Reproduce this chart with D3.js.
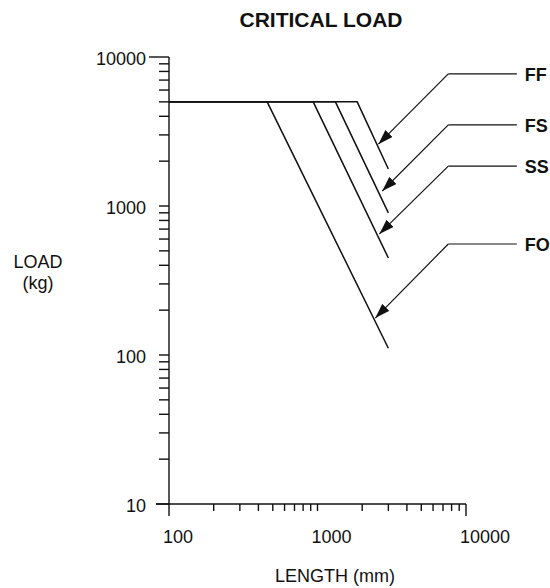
<!DOCTYPE html>
<html lang="en">
<head>
  <meta charset="utf-8">
  <title>Critical Load</title>
  <script src="https://cdn.jsdelivr.net/npm/d3@7"></script>
  <style>
    * { margin: 0; padding: 0; box-sizing: border-box; }
    body { background: #fff; font-family: "Liberation Sans", Arial, sans-serif; }
    svg { display: block; }
  </style>
</head>
<body>
  <svg id="chart" width="550" height="588"></svg>
  <script>
    // curve data (length in mm, load in kg)
    const series = ["FF", "FS", "SS", "FO"];
    const plateauLoad = 5000;
    const startLength = 100;
    const breakLength = [1850, 1320, 935, 458];
    const endLength = [3000, 3000, 3000, 3000];
    const endLoad = [1770, 900, 448, 111];

    // callouts
    const arrowTipLength = [2570, 2730, 2610, 2450];
    const arrowTipLoad = [2600, 1260, 650, 177];
    const labelLoad = [7700, 3500, 1850, 556];
    const labelFromLength = 7600;
    const labelToLength = 22000;

    const xTicks = [100, 1000, 10000];
    const yTicks = [10, 100, 1000, 10000];

    const svg = d3.select("#chart");

    const x = d3.scaleLog().domain([100, 10000]).range([169, 466]);
    const y = d3.scaleLog().domain([10, 10000]).range([504, 57]);

    const ink = "#111";

    // minor ticks: 1..9 per decade
    const minorX = [];
    for (let d = 100; d < 10000; d *= 10) for (let k = 1; k < 10; k++) minorX.push(d * k);
    minorX.push(10000);
    const minorY = [];
    for (let d = 10; d < 10000; d *= 10) for (let k = 1; k < 10; k++) minorY.push(d * k);
    minorY.push(10000);

    const axes = svg.append("g").attr("stroke", ink).attr("stroke-width", 1.4).attr("fill", "none");

    // axis lines
    axes.append("line").attr("x1", x(100)).attr("x2", x(100)).attr("y1", y(10000)).attr("y2", y(10));
    axes.append("line").attr("x1", x(100) - 13).attr("x2", x(10000)).attr("y1", y(10)).attr("y2", y(10));

    // y ticks (pointing left)
    axes.selectAll(".yt").data(minorY).join("line")
      .attr("x1", (d) => d === 10000 ? x(100) - 20 : d === 10 ? x(100) - 13 : x(100) - 10)
      .attr("x2", x(100))
      .attr("y1", (d) => y(d)).attr("y2", (d) => y(d));

    // x ticks (pointing down)
    axes.selectAll(".xt").data(minorX).join("line")
      .attr("x1", (d) => x(d)).attr("x2", (d) => x(d))
      .attr("y1", y(10))
      .attr("y2", (d) => d === 100 || d === 10000 ? y(10) + 12 : y(10) + 7);

    const text = svg.append("g").attr("fill", ink);

    text.selectAll(".yl").data(yTicks).join("text")
      .attr("x", x(100) - 23)
      .attr("y", (d) => y(d) + 8)
      .attr("text-anchor", "end")
      .attr("font-size", 18)
      .text((d) => d);

    text.selectAll(".xl").data(xTicks).join("text")
      .attr("x", (d) => x(d) - 6)
      .attr("y", 543)
      .attr("font-size", 18)
      .text((d) => d);

    text.append("text").attr("x", 321).attr("y", 27)
      .attr("text-anchor", "middle").attr("font-size", 21).attr("font-weight", "bold")
      .text("CRITICAL LOAD");

    text.append("text").attr("x", 335).attr("y", 582)
      .attr("text-anchor", "middle").attr("font-size", 18)
      .text("LENGTH (mm)");

    text.append("text").attr("x", 38).attr("y", 268)
      .attr("text-anchor", "middle").attr("font-size", 18)
      .text("LOAD");
    text.append("text").attr("x", 38).attr("y", 289)
      .attr("text-anchor", "middle").attr("font-size", 18)
      .text("(kg)");

    // curves
    const line = d3.line().x((d) => x(d[0])).y((d) => y(d[1]));
    svg.append("g").selectAll("path").data(series).join("path")
      .attr("d", (s, i) => line([
        [startLength, plateauLoad],
        [breakLength[i], plateauLoad],
        [endLength[i], endLoad[i]],
      ]))
      .attr("fill", "none")
      .attr("stroke", ink)
      .attr("stroke-width", 1.5);

    // arrowhead
    svg.append("defs").append("marker")
      .attr("id", "head")
      .attr("viewBox", "0 0 15 10")
      .attr("refX", 15).attr("refY", 5)
      .attr("markerWidth", 15).attr("markerHeight", 10)
      .attr("markerUnits", "userSpaceOnUse")
      .attr("orient", "auto")
      .append("path").attr("d", "M0,0 L15,5 L0,10 Z").attr("fill", ink);

    const callouts = svg.append("g").attr("fill", "none").attr("stroke", ink).attr("stroke-width", 1.2);
    callouts.selectAll(".h").data(series).join("line")
      .attr("x1", x(labelFromLength)).attr("x2", x(labelToLength))
      .attr("y1", (s, i) => y(labelLoad[i])).attr("y2", (s, i) => y(labelLoad[i]));
    callouts.selectAll(".d").data(series).join("line")
      .attr("x1", x(labelFromLength)).attr("y1", (s, i) => y(labelLoad[i]))
      .attr("x2", (s, i) => x(arrowTipLength[i])).attr("y2", (s, i) => y(arrowTipLoad[i]))
      .attr("marker-end", "url(#head)");

    text.selectAll(".sl").data(series).join("text")
      .attr("x", x(labelToLength) + 8)
      .attr("y", (s, i) => y(labelLoad[i]) + 7)
      .attr("font-size", 18).attr("font-weight", "bold")
      .text((s) => s);
  </script>
</body>
</html>
